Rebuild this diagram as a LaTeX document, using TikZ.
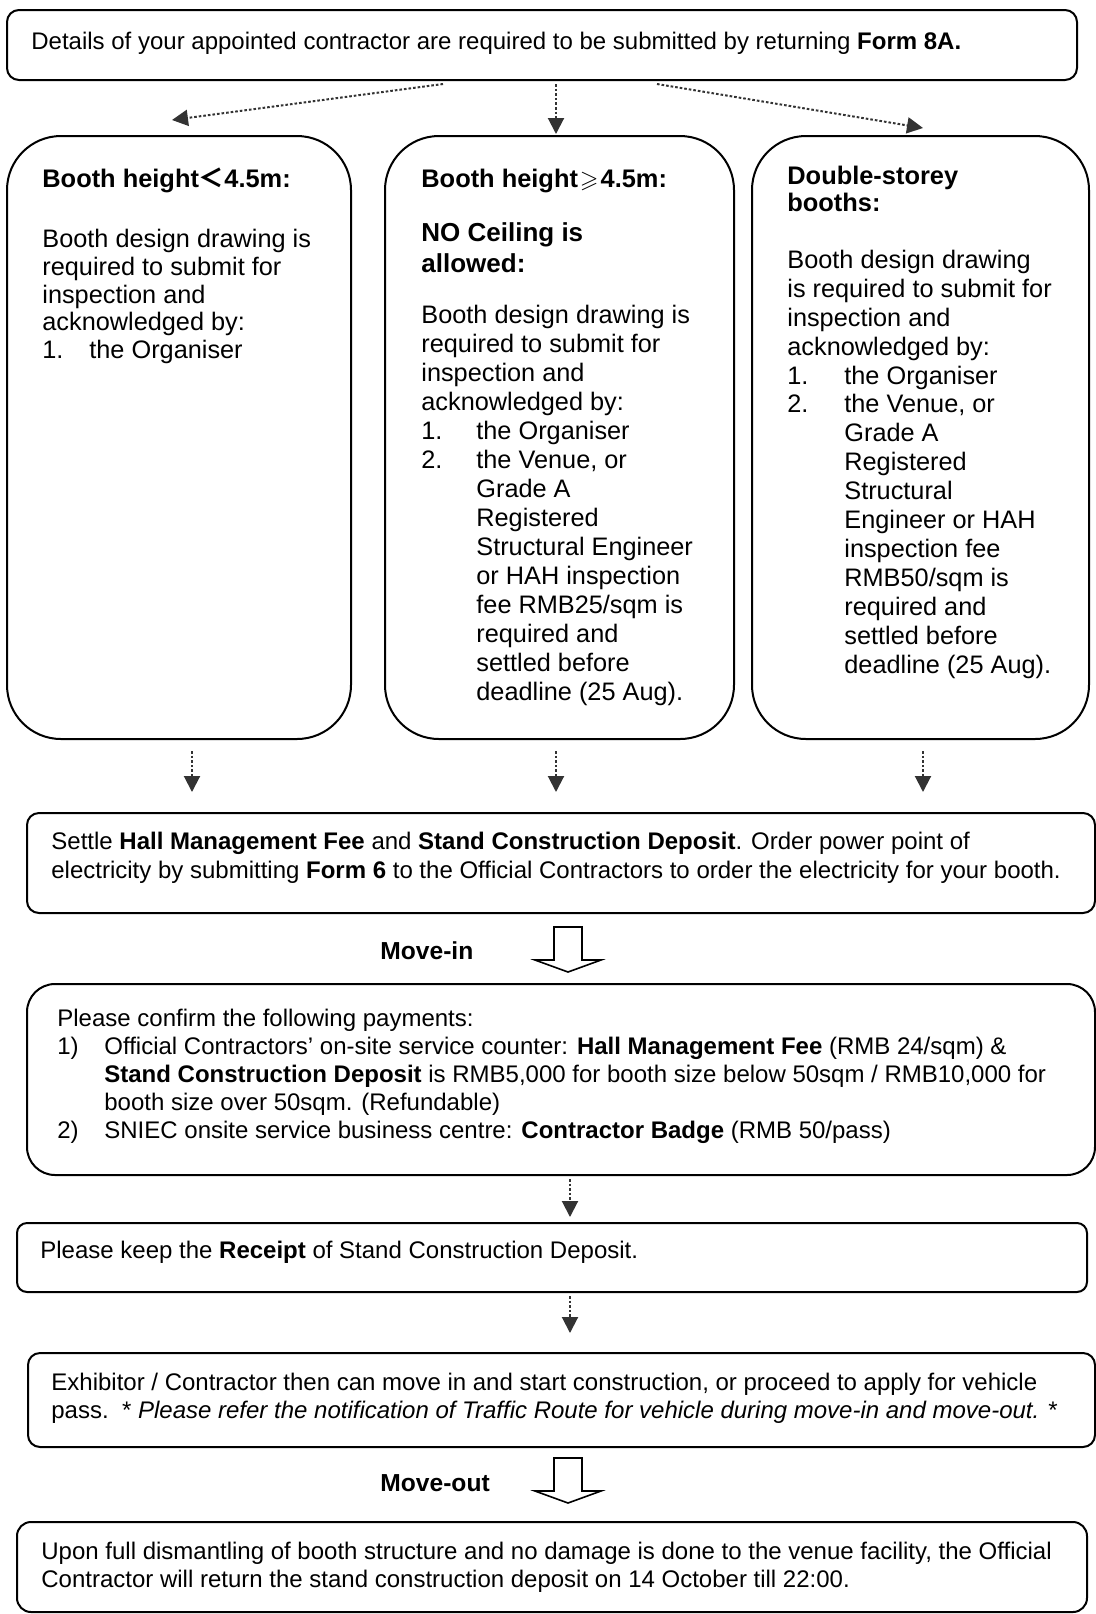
\documentclass[tikz,border=0pt]{standalone}
\usepackage{fontspec}
\setmainfont{Liberation Sans}
\newfontfamily\cjk{Noto Sans CJK SC}
\usepackage{amssymb}
\usetikzlibrary{arrows.meta,fit}
\newcommand\st{\rule{0pt}{10pt}}
\newcommand\itm[2]{\makebox[#1][l]{#2}}
\begin{document}
\begin{tikzpicture}[x=0.5pt,y=-0.5pt,
  box/.style={draw=black,line width=1pt,inner sep=0pt},
  txt/.style={anchor=north west,inner sep=0pt,align=left,font=\fontsize{12}{13.9}\selectfont},
  ttl/.style={anchor=north west,inner sep=0pt,align=left,font=\fontsize{12.7}{13.3}\selectfont\bfseries},
  flow/.style={draw=black!80,line width=1pt,dash pattern=on 1.3pt off 1pt,-{Triangle[length=8pt,width=8pt]}},
  hollow/.style={draw=black,line width=0.8pt,fill=white,line join=miter}
]
\useasboundingbox (0,0) rectangle (1096,1614);

% boxes
\node[box,rounded corners=6pt,fit={(7,10)(1077,80)}] (top) {};
\node[box,rounded corners=27pt,fit={(7,136)(351,739)}] (b1) {};
\node[box,rounded corners=27pt,fit={(385,136)(734,739)}] (b2) {};
\node[box,rounded corners=27pt,fit={(752,136)(1089,739)}] (b3) {};
\node[box,rounded corners=6pt,fit={(27,813)(1095,913)}] (b4) {};
\node[box,rounded corners=14pt,fit={(27,984)(1095,1175)}] (b5) {};
\node[box,rounded corners=5pt,fit={(17,1223)(1087,1292)}] (b6) {};
\node[box,rounded corners=6pt,fit={(28,1353)(1095,1447)}] (b7) {};
\node[box,rounded corners=7pt,fit={(17,1522)(1087,1612)}] (b8) {};

% texts
\node[txt] (t0) at (31,29) {\st Details of your appointed contractor are required to be submitted by returning \textbf{Form 8A.}};

\node[ttl] (t1h) at (42,167) {\st Booth height{\cjk ＜}4.5m:};
\node[txt,font=\fontsize{12.65}{13.9}\selectfont] (t1) at (42,227) {\st Booth design drawing is\\
required to submit for\\
inspection and\\
acknowledged by:\\
\itm{23.5pt}{1.}the Organiser};

\node[ttl] (t2h) at (421,167) {\st Booth height\kern1pt{\large$\geqslant$}\kern1pt4.5m:};
\node[txt,font=\fontsize{13}{15.5}\selectfont\bfseries] (t2n) at (421,221) {\st NO Ceiling is\\allowed:};
\node[txt,font=\fontsize{12.65}{14.48}\selectfont] (t2) at (421,303.5) {\st Booth design drawing is\\
required to submit for\\
inspection and\\
acknowledged by:\\
\itm{27.5pt}{1.}the Organiser\\
\itm{27.5pt}{2.}the Venue, or\\
\hspace*{27.5pt}Grade A\\
\hspace*{27.5pt}Registered\\
\hspace*{27.5pt}Structural Engineer\\
\hspace*{27.5pt}or HAH inspection\\
\hspace*{27.5pt}fee RMB25/sqm is\\
\hspace*{27.5pt}required and\\
\hspace*{27.5pt}settled before\\
\hspace*{27.5pt}deadline (25 Aug).};

\node[ttl] (t3h) at (787,164.5) {\st Double-storey\\booths:};
\node[txt,font=\fontsize{12.65}{14.45}\selectfont] (t3) at (787,248) {\st Booth design drawing\\
is required to submit for\\
inspection and\\
acknowledged by:\\
\itm{28.5pt}{1.}the Organiser\\
\itm{28.5pt}{2.}the Venue, or\\
\hspace*{28.5pt}Grade A\\
\hspace*{28.5pt}Registered\\
\hspace*{28.5pt}Structural\\
\hspace*{28.5pt}Engineer or HAH\\
\hspace*{28.5pt}inspection fee\\
\hspace*{28.5pt}RMB50/sqm is\\
\hspace*{28.5pt}required and\\
\hspace*{28.5pt}settled before\\
\hspace*{28.5pt}deadline (25 Aug).};

\node[txt,font=\fontsize{12}{14.3}\selectfont] (t4) at (51,829) {\st Settle \textbf{Hall Management Fee} and \textbf{Stand Construction Deposit}. Order power point of\\
electricity by submitting \textbf{Form 6} to the Official Contractors to order the electricity for your booth.};

\node[txt,font=\fontsize{12.3}{13.9}\selectfont\bfseries] (mi) at (380,939) {\st Move-in};

\node[txt,font=\fontsize{12}{14}\selectfont] (t5) at (57,1006.5) {\st Please confirm the following payments:\\
\itm{23.5pt}{1)}Official Contractors’ on-site service counter: \textbf{Hall Management Fee} (RMB 24/sqm) \&\\
\hspace*{23.5pt}\textbf{Stand Construction Deposit} is RMB5,000 for booth size below 50sqm / RMB10,000 for\\
\hspace*{23.5pt}booth size over 50sqm. (Refundable)\\
\itm{23.5pt}{2)}SNIEC onsite service business centre: \textbf{Contractor Badge} (RMB 50/pass)};

\node[txt] (t6) at (40,1238.5) {\st Please keep the \textbf{Receipt} of Stand Construction Deposit.};

\node[txt,font=\fontsize{12}{14}\selectfont] (t7) at (51,1370.5) {\st Exhibitor / Contractor then can move in and start construction, or proceed to apply for vehicle\\
pass.\ \ * \textit{Please refer the notification of Traffic Route for vehicle during move-in and move-out.} *};

\node[txt,font=\fontsize{12.3}{13.9}\selectfont\bfseries] (mo) at (380,1471) {\st Move-out};

\node[txt,font=\fontsize{12}{14}\selectfont] (t8) at (41,1539.5) {\st Upon full dismantling of booth structure and no damage is done to the venue facility, the Official\\
Contractor will return the stand construction deposit on 14 October till 22:00.};

% connector coordinates
\coordinate (a1s) at (443,84);  \coordinate (a1e) at (172,120);
\coordinate (a2s) at (556,84);  \coordinate (a2e) at (556,134);
\coordinate (a3s) at (657,84);  \coordinate (a3e) at (923,128);
\coordinate (d1s) at (192,751); \coordinate (d1e) at (192,792);
\coordinate (d2s) at (556,751); \coordinate (d2e) at (556,792);
\coordinate (d3s) at (923,751); \coordinate (d3e) at (923,792);
\coordinate (e1s) at (570,1179); \coordinate (e1e) at (570,1217);
\coordinate (e2s) at (570,1296); \coordinate (e2e) at (570,1333);

\draw[flow] (a1s) -- (a1e);
\draw[flow] (a2s) -- (a2e);
\draw[flow] (a3s) -- (a3e);
\draw[flow] (d1s) -- (d1e);
\draw[flow] (d2s) -- (d2e);
\draw[flow] (d3s) -- (d3e);
\draw[flow] (e1s) -- (e1e);
\draw[flow] (e2s) -- (e2e);

% hollow arrows
\draw[hollow] (554,927) -- (554,960) -- (535,960) -- (568,972) -- (601,960) -- (582,960) -- (582,927) -- cycle;
\draw[hollow] (554,1458) -- (554,1491) -- (535,1491) -- (568,1503) -- (601,1491) -- (582,1491) -- (582,1458) -- cycle;
\end{tikzpicture}
\end{document}
